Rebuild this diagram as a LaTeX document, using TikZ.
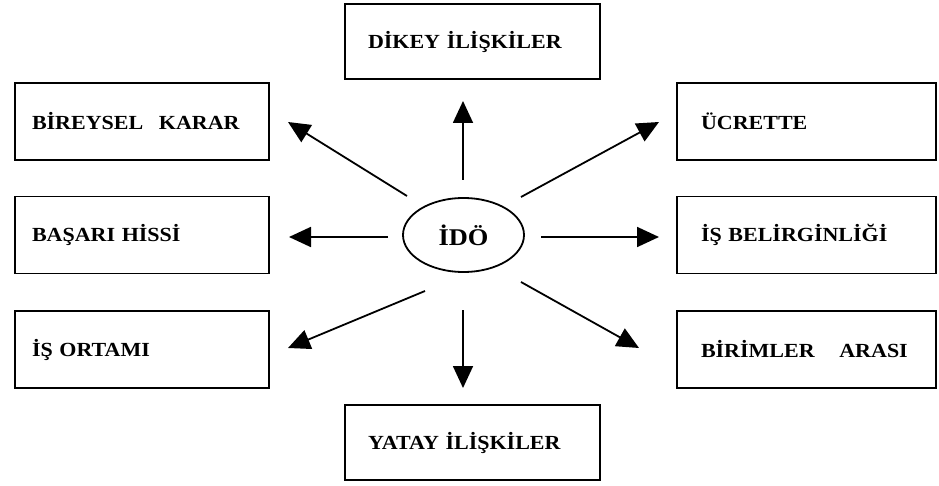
\documentclass[tikz,border=0pt]{standalone}
\usepackage{fontspec}
\setmainfont{Liberation Serif}[FakeStretch=1.1]
\usetikzlibrary{arrows.meta,shapes.geometric}

\begin{document}
\begin{tikzpicture}[x=1pt,y=-1pt,
  box/.style={draw, rectangle, line width=1.3pt, align=left, inner ysep=0pt,
              font=\bfseries\fontsize{20}{24}\selectfont},
  leftbox/.style={box, minimum height=77pt, text width=220pt, inner xsep=17pt},
  rightbox/.style={box, minimum height=77pt, text width=211pt, inner xsep=24pt},
  midbox/.style={box, minimum height=75pt, text width=209pt, inner xsep=23pt},
  hub/.style={draw, ellipse, line width=1.8pt, inner sep=0pt,
              minimum width=121pt, minimum height=74pt,
              font=\bfseries\fontsize{24}{28}\selectfont},
  arr/.style={line width=1.8pt, -{Triangle[length=22pt,width=20pt]}}
]
\useasboundingbox (0,0) rectangle (939,486);

% centre
\node[hub] (ido) at (463.5,235) {İDÖ};

% boxes
\node[midbox]   (dikey)   at (472.5,41.5)  {DİKEY İLİŞKİLER};
\node[midbox]   (yatay)   at (472.5,442.5) {YATAY İLİŞKİLER};
\node[leftbox]  (birey)   at (142,121.5)   {BİREYSEL\hspace{9pt} KARAR};
\node[leftbox]  (basari)  at (142,235)     {BAŞARI HİSSİ};
\node[leftbox]  (ortam)   at (142,349.5)   {İŞ ORTAMI};
\node[rightbox] (ucret)   at (806.5,121.5) {ÜCRETTE};
\node[rightbox] (belirgin) at (806.5,235)   {İŞ BELİRGİNLİĞİ};
\node[rightbox] (birim)   at (806.5,349.5) {BİRİMLER\hspace{18pt} ARASI};

% arrow ends
\coordinate (u0)  at (463,180); \coordinate (u1)  at (463,101);
\coordinate (d0)  at (463,310); \coordinate (d1)  at (463,388);
\coordinate (l0)  at (388,237); \coordinate (l1)  at (289,237);
\coordinate (r0)  at (541,237); \coordinate (r1)  at (659,237);
\coordinate (ul0) at (407,196); \coordinate (ul1) at (288,122);
\coordinate (ur0) at (521,197); \coordinate (ur1) at (659,122);
\coordinate (dl0) at (425,291); \coordinate (dl1) at (288,348);
\coordinate (dr0) at (521,282); \coordinate (dr1) at (639,348);

% arrows from the centre outwards
\draw[arr] (u0)  -- (u1);
\draw[arr] (d0)  -- (d1);
\draw[arr] (l0)  -- (l1);
\draw[arr] (r0)  -- (r1);
\draw[arr] (ul0) -- (ul1);
\draw[arr] (ur0) -- (ur1);
\draw[arr] (dl0) -- (dl1);
\draw[arr] (dr0) -- (dr1);
\end{tikzpicture}
\end{document}
